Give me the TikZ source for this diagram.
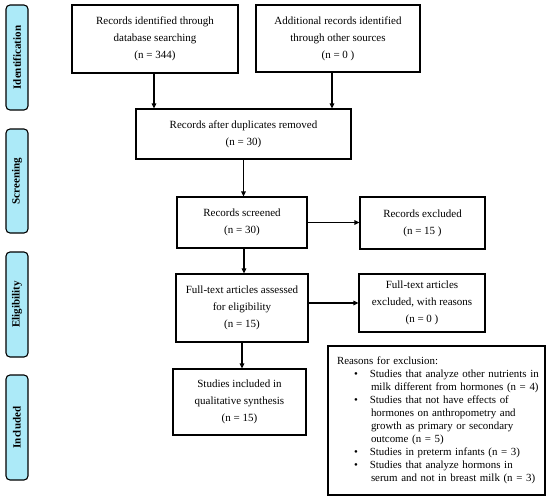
\documentclass[tikz,border=0pt]{standalone}
\usepackage{fontspec}
\setmainfont{Liberation Serif}
\usetikzlibrary{arrows.meta,calc}
\definecolor{sidecyan}{RGB}{172,234,248}
\newcommand{\rbul}[1]{\mbox{\hspace*{17pt}\textbullet\hspace{12pt}#1}}
\newcommand{\rcont}[1]{\mbox{\hspace*{34pt}#1}}
\begin{document}
\begin{tikzpicture}[x=1pt,y=-1pt,
  box/.style={draw,line width=1.1pt,inner sep=0pt,align=center,font=\fontsize{11}{17}\selectfont},
  side/.style={draw,line width=1.1pt,fill=sidecyan,rounded corners=4pt,inner sep=0pt,rotate=90,font=\fontsize{11}{12}\selectfont\bfseries},
  arr/.style={line width=1.1pt,-{Triangle[length=5pt,width=4.5pt]}}]
\useasboundingbox (0,0) rectangle (550,501);
% side labels (rotated: minimum width runs along the text, i.e. vertically)
\node[side,minimum width=105pt,minimum height=22pt] (sid) at (17,57.5) {Identification};
\node[side,minimum width=104pt,minimum height=22pt] (ssc) at (17,181) {Screening};
\node[side,minimum width=105pt,minimum height=22pt] (sel) at (17,304.5) {Eligibility};
\node[side,minimum width=105pt,minimum height=22pt] (sin) at (17,427.5) {Included};
% boxes
\node[box,minimum width=166pt,minimum height=68pt] (b1) at (155,39) {Records identified through\\database searching\\(n = 344)};
\node[box,minimum width=164pt,minimum height=67pt] (b2) at (338,38.5) {Additional records identified\\through other sources\\(n = 0 )};
\node[box,minimum width=215pt,minimum height=50pt] (dup) at (243.5,134) {Records after duplicates removed\\(n = 30)};
\node[box,minimum width=130pt,minimum height=51pt] (scr) at (242,222.5) {Records screened\\(n = 30)};
\node[box,minimum width=125pt,minimum height=52pt] (exc) at (422.5,223) {Records excluded\\(n = 15 )};
\node[box,minimum width=132pt,minimum height=68pt] (ft) at (242,308) {Full-text articles assessed\\for eligibility\\(n = 15)};
\node[box,minimum width=126pt,minimum height=58pt] (fte) at (422,303) {Full-text articles\\excluded, with reasons\\(n = 0 )};
\node[box,minimum width=133pt,minimum height=66pt] (inc) at (239.5,402) {Studies included in\\qualitative synthesis\\(n = 15)};
\node[draw,line width=1.1pt,minimum width=217pt,minimum height=149pt,inner xsep=9pt,text width=199pt,align=left,font=\fontsize{10.9}{13}\selectfont] (rea) at (436.5,420.5) {Reasons for exclusion:\\
\rbul{Studies that analyze other nutrients in}\\
\rcont{milk different from hormones (n = 4)}\\
\rbul{Studies that not have effects of}\\
\rcont{hormones on anthropometry and}\\
\rcont{growth as primary or secondary}\\
\rcont{outcome (n = 5)}\\
\rbul{Studies in preterm infants (n = 3)}\\
\rbul{Studies that analyze hormons in}\\
\rcont{serum and not in breast milk (n = 3)}};
% arrows
\draw[arr] ([xshift=-1pt]b1.south) -- ([xshift=-1pt]b1.south |- dup.north);
\draw[arr] ([xshift=-6pt]b2.south) -- ([xshift=-6pt]b2.south |- dup.north);
\draw[arr] (dup.south) -- (dup.south |- scr.north);
\draw[arr] (scr.east) -- (scr.east -| exc.west);
\draw[arr] ([xshift=2pt]scr.south) -- ([xshift=2pt]scr.south |- ft.north);
\draw[arr] (ft.south) -- (ft.south |- inc.north);
\draw[arr] (fte.west -| ft.east) -- (fte.west);
\end{tikzpicture}
\end{document}
